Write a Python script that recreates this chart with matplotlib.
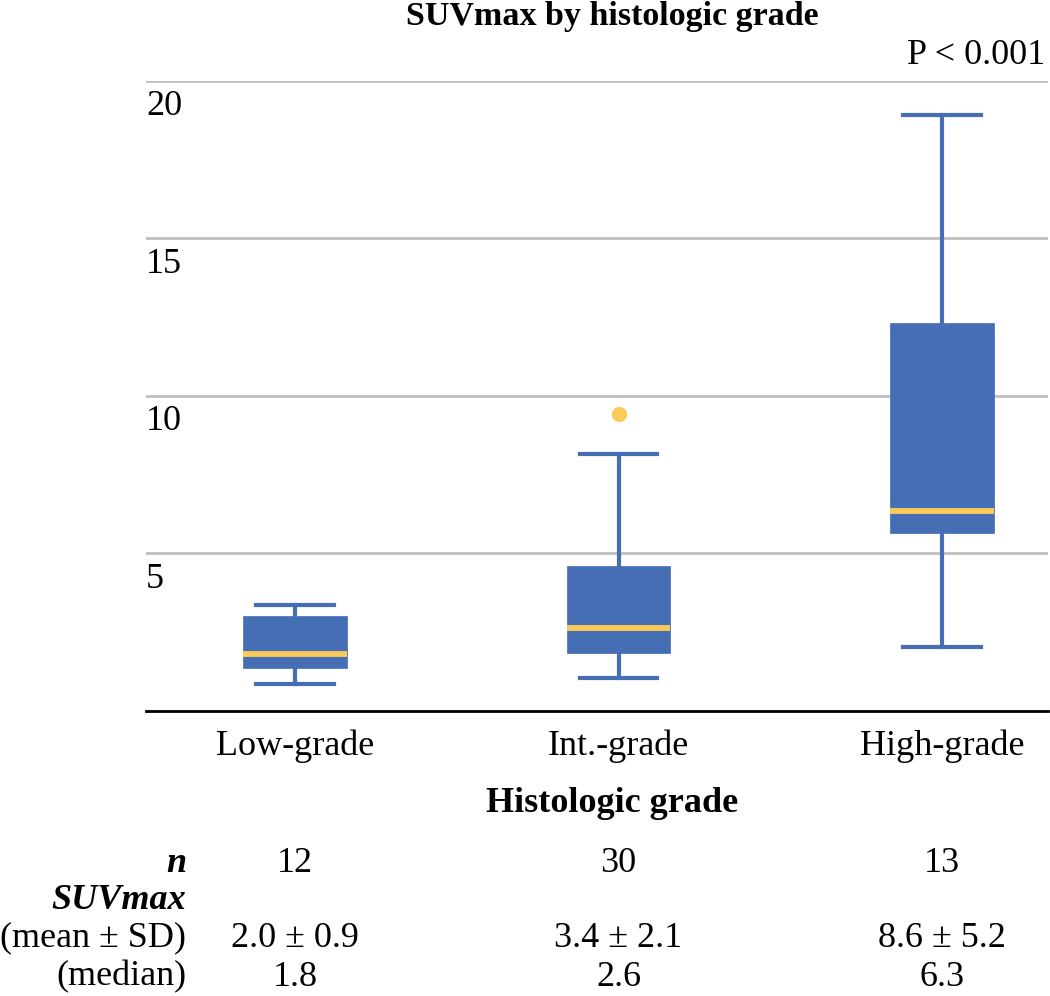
import matplotlib
matplotlib.use("Agg")
import matplotlib.pyplot as plt
from matplotlib.transforms import ScaledTranslation, blended_transform_factory

plt.rcParams['font.family'] = ['Liberation Serif', 'DejaVu Serif']

categories = ["Low-grade", "Int.-grade", "High-grade"]
whislo = [0.83, 1.04, 2.03]
q1 = [1.36, 1.82, 5.62]
med = [1.78, 2.63, 6.33]
q3 = [3.00, 4.60, 12.30]
whishi = [3.34, 8.13, 18.91]
fliers = [[], [9.41], []]
n_vals = ["12", "30", "13"]
mean_sd = ["2.0 \u00b1 0.9", "3.4 \u00b1 2.1", "8.6 \u00b1 5.2"]
median_txt = ["1.8", "2.6", "6.3"]
yticks = [5, 10, 15, 20]

BLUE = "#456EB5"
GOLD = "#FCCA58"

W, H = 1050, 996
fig = plt.figure(figsize=(W / 100, H / 100), dpi=100)
ax = fig.add_axes([146 / W, 1 - 710.5 / H, (1048 - 146) / W, (710.5 - 80.5) / H])

stats = []
for i in range(3):
    stats.append(dict(whislo=whislo[i], q1=q1[i], med=med[i], q3=q3[i],
                      whishi=whishi[i], fliers=fliers[i], label=categories[i]))
pos = [0, 1, 2]
ax.bxp(stats, positions=pos, widths=0.32, patch_artist=True, showfliers=True,
       boxprops=dict(facecolor=BLUE, edgecolor=BLUE, linewidth=0.5),
       whiskerprops=dict(color=BLUE, linewidth=3),
       capprops=dict(color=BLUE, linewidth=3),
       medianprops=dict(color=GOLD, linewidth=4.2, solid_capstyle='butt'),
       flierprops=dict(marker='o', markerfacecolor=GOLD, markeredgecolor=GOLD, markersize=10),
       capwidths=0.24, zorder=3)

ax.set_xlim(-(295 - 146) / 323.5, (1048 - 295) / 323.5)
ax.set_ylim(0, 20)
ax.set_yticks(yticks)
ax.yaxis.grid(True, color="#BFBFBF", linewidth=2)
ax.set_axisbelow(True)
for s in ["left", "right", "top"]:
    ax.spines[s].set_visible(False)
ax.spines["bottom"].set_linewidth(2)
ax.spines["bottom"].set_color("black")
ax.tick_params(axis='y', length=0, pad=0, labelsize=26)
ax.tick_params(axis='x', length=0, pad=14, labelsize=26)
ax.set_xticks(pos, categories)
for lab in ax.get_yticklabels():
    lab.set_horizontalalignment('left')
    lab.set_verticalalignment('center')
    lab.set_transform(lab.get_transform() + ScaledTranslation(0, -0.26, fig.dpi_scale_trans))

fig.text(612 / W, 1 - 17 / H, "SUVmax by histologic grade", ha='center', va='center',
         fontsize=24.5, fontweight='bold')
fig.text(1045 / W, 1 - 55 / H, "P < 0.001", ha='right', va='center', fontsize=26)
fig.text(612 / W, 1 - 803 / H, "Histologic grade", ha='center', va='center',
         fontsize=26, fontweight='bold')

tr = blended_transform_factory(ax.transData, fig.transFigure)
rows_y = [863, 900, 938, 977]
row_labels = ["n", "SUVmax", "(mean \u00b1 SD)", "(median)"]
row_styles = [('bold', 'italic'), ('bold', 'italic'), ('normal', 'normal'), ('normal', 'normal')]
for lab, y, (wt, st) in zip(row_labels, rows_y, row_styles):
    fig.text(186 / W, 1 - y / H, lab, ha='right', va='center', fontsize=26,
             fontweight=wt, fontstyle=st)
for i in range(3):
    ax.text(pos[i], 1 - rows_y[0] / H, n_vals[i], transform=tr, ha='center', va='center', fontsize=26)
    ax.text(pos[i], 1 - rows_y[2] / H, mean_sd[i], transform=tr, ha='center', va='center', fontsize=26)
    ax.text(pos[i], 1 - rows_y[3] / H, median_txt[i], transform=tr, ha='center', va='center', fontsize=26)

fig.savefig("out.png", dpi=100)
